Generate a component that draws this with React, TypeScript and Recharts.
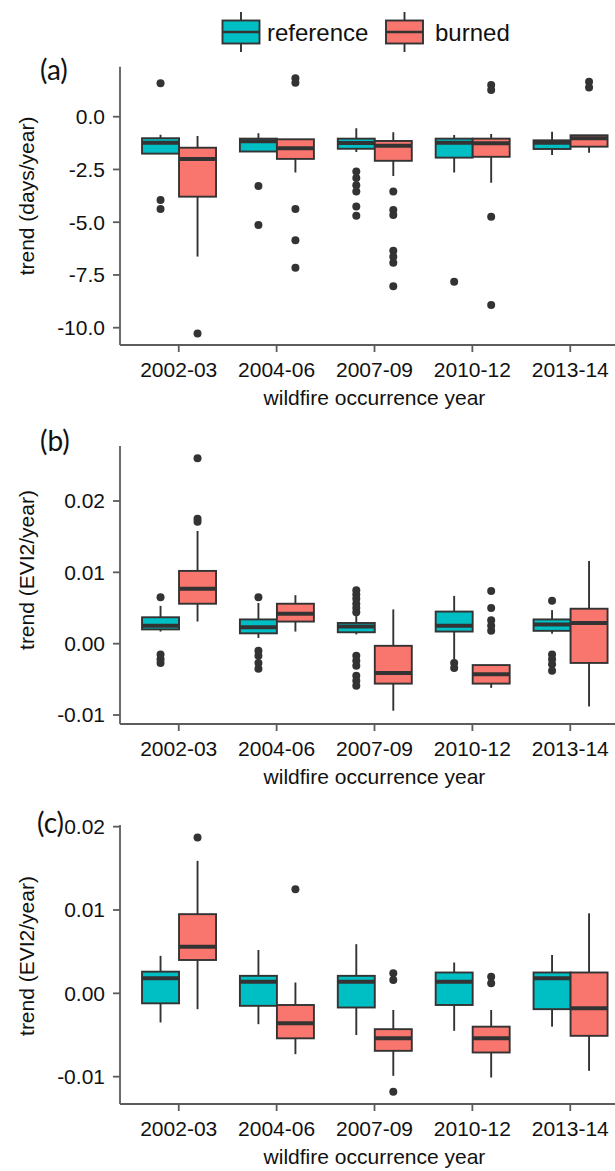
import React from 'react';
import { ComposedChart, Bar, XAxis, YAxis } from 'recharts';

// ---- data -------------------------------------------------------------
const years = ['2002-03', '2004-06', '2007-09', '2010-12', '2013-14'];

// each box: [lower whisker, Q1, median, Q3, upper whisker]
const daysReference = [
  [-1.75, -1.75, -1.24, -1.02, -0.86],
  [-1.65, -1.65, -1.16, -1.04, -0.79],
  [-1.67, -1.52, -1.25, -1.04, -0.55],
  [-2.65, -1.94, -1.23, -1.04, -0.87],
  [-1.82, -1.53, -1.24, -1.12, -0.71],
];
const daysReferenceOutliers = [
  [1.58, -3.95, -4.38],
  [-3.29, -5.13],
  [-2.6, -2.9, -3.25, -3.55, -4.25, -4.7],
  [-7.82],
  [],
];
const daysBurned = [
  [-6.63, -3.79, -2.0, -1.47, -0.92],
  [-2.65, -2.0, -1.5, -1.07, -1.07],
  [-2.81, -2.09, -1.38, -1.15, -0.74],
  [-3.13, -1.9, -1.26, -1.04, -0.82],
  [-1.71, -1.42, -1.02, -0.88, -0.88],
];
const daysBurnedOutliers = [
  [-10.27],
  [1.82, 1.61, -4.38, -5.85, -7.16],
  [-3.55, -4.42, -4.66, -6.35, -6.64, -6.92, -8.03],
  [1.5, 1.26, -4.74, -8.93],
  [1.66, 1.39],
];

const eviReference = [
  [0.0017, 0.002, 0.0025, 0.0037, 0.0053],
  [0.0008, 0.00145, 0.0023, 0.0034, 0.0057],
  [0.0013, 0.0016, 0.0024, 0.0029, 0.0041],
  [-0.0022, 0.0017, 0.0025, 0.0045, 0.0067],
  [0.0014, 0.0018, 0.0027, 0.0034, 0.0047],
];
const eviReferenceOutliers = [
  [0.0065, -0.0015, -0.0022, -0.0027],
  [0.0065, -0.001, -0.0017, -0.0027, -0.0035],
  [0.0075, 0.0069, 0.0063, 0.0056, 0.005, 0.0044, -0.0017, -0.0024, -0.0031, -0.0045, -0.0052, -0.0059],
  [-0.0027, -0.0034],
  [0.006, -0.0015, -0.0022, -0.0029, -0.0038],
];
const eviBurned = [
  [0.0031, 0.0056, 0.0077, 0.0102, 0.0158],
  [0.0017, 0.0031, 0.0042, 0.0056, 0.0068],
  [-0.0094, -0.0056, -0.0041, -0.0003, 0.0048],
  [-0.0062, -0.0056, -0.0043, -0.003, -0.003],
  [-0.0088, -0.0027, 0.0029, 0.0049, 0.0116],
];
const eviBurnedOutliers = [
  [0.026, 0.0175, 0.0171],
  [],
  [],
  [0.0074, 0.005, 0.0033, 0.0025, 0.0018],
  [],
];

const eviSeasonReference = [
  [-0.0035, -0.0012, 0.0018, 0.0026, 0.0045],
  [-0.0037, -0.0015, 0.0014, 0.0021, 0.0052],
  [-0.005, -0.0017, 0.0014, 0.0021, 0.0059],
  [-0.0045, -0.0014, 0.0014, 0.0025, 0.0037],
  [-0.004, -0.0019, 0.0018, 0.0025, 0.0046],
];
const eviSeasonReferenceOutliers = [[], [], [], [], []];
const eviSeasonBurned = [
  [-0.0019, 0.004, 0.0056, 0.0095, 0.0159],
  [-0.0073, -0.0054, -0.0036, -0.0014, 0.0013],
  [-0.0099, -0.0069, -0.0054, -0.0043, -0.002],
  [-0.0101, -0.0071, -0.0054, -0.004, -0.002],
  [-0.0093, -0.0051, -0.0018, 0.0025, 0.0096],
];
const eviSeasonBurnedOutliers = [
  [0.0187],
  [0.0125],
  [0.0024, 0.0016, -0.0118],
  [0.002, 0.0012],
  [],
];

const daysTicks = [-10, -7.5, -5, -2.5, 0];
const eviTicks = [-0.01, 0, 0.01, 0.02];

// ---- styling ----------------------------------------------------------
const FONT = '"Liberation Sans", Arial, Helvetica, sans-serif';
const TAG_FONT = 'Lato, "Open Sans", sans-serif';
const REF_FILL = '#00BFC4';
const BURN_FILL = '#F8766D';
const INK = '#333333';
const FRAME = '#5c5c5c';
const TEXT = '#111111';
const AXIS_FS = 21;
const CHART_W = 640;
const X_AXIS_H = 67;

function buildRows(ref, refOut, burn, burnOut) {
  return years.map((cat, i) => ({
    cat,
    ref: [ref[i][1], ref[i][3]],
    burned: [burn[i][1], burn[i][3]],
    refStats: ref[i],
    refOut: refOut[i],
    burnedStats: burn[i],
    burnedOut: burnOut[i],
  }));
}

// Box-and-whisker drawn around the Q1..Q3 range bar that Recharts lays out.
function BoxShape(props: any) {
  const { x, y, width, height, stats, outliers, fill } = props;
  if (!stats || x == null || y == null) return null;
  const [lo, q1, med, q3, hi] = stats;
  const top = Math.min(y, y + height);
  const h = Math.abs(height);
  const k = h / (q3 - q1);
  const py = (v: number) => top + (q3 - v) * k;
  const cx = x + width / 2;
  return (
    <g>
      <line x1={cx} x2={cx} y1={py(hi)} y2={top} stroke={INK} strokeWidth={1.9} />
      <line x1={cx} x2={cx} y1={top + h} y2={py(lo)} stroke={INK} strokeWidth={1.9} />
      <rect x={x} y={top} width={width} height={h} fill={fill} stroke={INK} strokeWidth={1.9} />
      <line x1={x} x2={x + width} y1={py(med)} y2={py(med)} stroke={INK} strokeWidth={4} />
      {(outliers || []).map((o: number, i: number) => (
        <circle key={i} cx={cx} cy={py(o)} r={4} fill={INK} />
      ))}
    </g>
  );
}

type PanelProps = {
  top: number;
  height: number;
  plotTop: number;
  domain: [number, number];
  ticks: number[];
  digits: number;
  yTitle: string;
  yTitleY: number;
  rows: any[];
};

function Panel({ top, height, plotTop, domain, ticks, digits, yTitle, yTitleY, rows }: PanelProps) {
  const plotBottom = height - X_AXIS_H;
  const tickStyle = { fill: TEXT, fontSize: AXIS_FS, fontFamily: FONT };
  const lineStyle = { stroke: FRAME, strokeWidth: 1.8 };
  const xTitle = () => (
    <text x={374.5} y={plotBottom + 60} textAnchor="middle" fill={TEXT} fontSize={AXIS_FS} fontFamily={FONT}>
      wildfire occurrence year
    </text>
  );
  const yTitleRender = () => (
    <text
      x={34}
      y={yTitleY}
      transform={`rotate(-90 34 ${yTitleY})`}
      textAnchor="middle"
      fill={TEXT}
      fontSize={AXIS_FS}
      fontFamily={FONT}
    >
      {yTitle}
    </text>
  );
  return (
    <div style={{ position: 'absolute', left: 0, top }}>
      <ComposedChart
        width={CHART_W}
        height={height}
        data={rows}
        margin={{ top: plotTop - top, right: 11, bottom: 0, left: 0 }}
        barCategoryGap="12.5%"
        barGap={0}
      >
        <XAxis
          dataKey="cat"
          height={X_AXIS_H}
          padding={{ left: 9.8, right: 9.8 }}
          interval={0}
          tickSize={7}
          tickMargin={10.5}
          tick={tickStyle}
          tickLine={lineStyle}
          axisLine={lineStyle}
          label={xTitle}
        />
        <XAxis xAxisId="frameTop" orientation="top" dataKey="cat" height={0} tick={false} tickLine={false} axisLine={lineStyle} />
        <YAxis
          type="number"
          width={120}
          domain={domain}
          allowDataOverflow
          ticks={ticks}
          interval={0}
          tickFormatter={(v: number) => v.toFixed(digits)}
          tickSize={7}
          tickMargin={8}
          tick={tickStyle}
          tickLine={lineStyle}
          axisLine={lineStyle}
          label={yTitleRender}
        />
        <YAxis yAxisId="frameRight" orientation="right" type="number" width={0} domain={domain} allowDataOverflow tick={false} tickLine={false} axisLine={lineStyle} />
        <Bar
          dataKey="ref"
          fill={REF_FILL}
          isAnimationActive={false}
          shape={(p: any) => <BoxShape {...p} stats={p.payload.refStats} outliers={p.payload.refOut} />}
        />
        <Bar
          dataKey="burned"
          fill={BURN_FILL}
          isAnimationActive={false}
          shape={(p: any) => <BoxShape {...p} stats={p.payload.burnedStats} outliers={p.payload.burnedOut} />}
        />
      </ComposedChart>
    </div>
  );
}

function LegendKey({ x, fill }: { x: number; fill: string }) {
  const w = 37;
  const cx = x + w / 2;
  return (
    <g>
      <line x1={cx} x2={cx} y1={12} y2={52} stroke={INK} strokeWidth={1.9} />
      <rect x={x} y={20.5} width={w} height={23} fill={fill} stroke={INK} strokeWidth={1.9} />
      <line x1={x} x2={x + w} y1={32} y2={32} stroke={INK} strokeWidth={2.6} />
    </g>
  );
}

export default function App() {
  const rowsA = buildRows(daysReference, daysReferenceOutliers, daysBurned, daysBurnedOutliers);
  const rowsB = buildRows(eviReference, eviReferenceOutliers, eviBurned, eviBurnedOutliers);
  const rowsC = buildRows(eviSeasonReference, eviSeasonReferenceOutliers, eviSeasonBurned, eviSeasonBurnedOutliers);
  return (
    <div style={{ position: 'absolute', left: 0, top: 0, width: 615, height: 1171, overflow: 'hidden', background: '#fff' }}>
      <Panel top={0} height={412} plotTop={66.7} domain={[-10.82, 2.37]} ticks={daysTicks} digits={1}
        yTitle="trend (days/year)" yTitleY={196} rows={rowsA} />
      <Panel top={412} height={379} plotTop={446} domain={[-0.01126, 0.02771]} ticks={eviTicks} digits={2}
        yTitle="trend (EVI2/year)" yTitleY={158} rows={rowsB} />
      <Panel top={791} height={380} plotTop={825} domain={[-0.01328, 0.0202]} ticks={eviTicks} digits={2}
        yTitle="trend (EVI2/year)" yTitleY={165} rows={rowsC} />
      <svg width={615} height={1171} style={{ position: 'absolute', left: 0, top: 0, pointerEvents: 'none' }}>
        <LegendKey x={222.5} fill={REF_FILL} />
        <text x={267} y={41} fontSize={24} fontFamily={FONT} fill={TEXT}>reference</text>
        <LegendKey x={386} fill={BURN_FILL} />
        <text x={435} y={41} fontSize={24} fontFamily={FONT} fill={TEXT}>burned</text>
        <text x={40} y={80} fontSize={28} fontFamily={TAG_FONT} fill={TEXT}>(a)</text>
        <text x={40} y={451} fontSize={28} fontFamily={TAG_FONT} fill={TEXT}>(b)</text>
        <text x={37} y={833} fontSize={28} fontFamily={TAG_FONT} fill={TEXT}>(c)</text>
      </svg>
    </div>
  );
}
